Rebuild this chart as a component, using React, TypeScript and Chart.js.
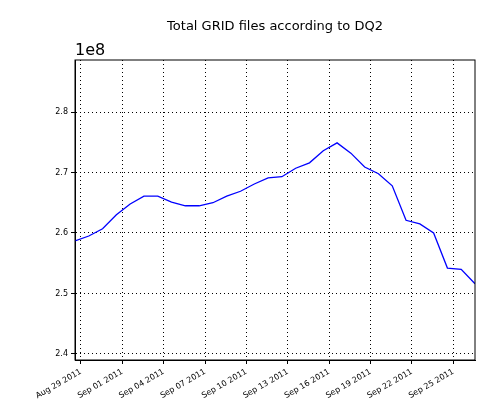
import { useEffect, useRef } from "react";
import { Chart, registerables, type ChartConfiguration, type Plugin } from "chart.js";

Chart.register(...registerables);

// day offset from Aug 29 2011 (data sampled ~14:00 each day)
const dayOffsets = [
  -0.43, 0.57, 1.57, 2.57, 3.57, 4.57, 5.57, 6.57, 7.57, 8.57, 9.57, 10.57, 11.57, 12.57, 13.57,
  14.57, 15.57, 16.57, 17.57, 18.57, 19.57, 20.57, 21.57, 22.57, 23.57, 24.57, 25.57, 26.57, 27.57, 28.57,
];
// values in units of 1e8
const gridFiles = [
  2.587, 2.595, 2.607, 2.63, 2.648, 2.661, 2.661, 2.651, 2.645, 2.645, 2.65, 2.661, 2.669, 2.681, 2.691,
  2.693, 2.707, 2.716, 2.736, 2.749, 2.732, 2.709, 2.698, 2.678, 2.621, 2.615, 2.6, 2.542, 2.54, 2.516,
];
const xTickDays = [0, 3, 6, 9, 12, 15, 18, 21, 24, 27];
const xTickLabels = [
  "Aug 29 2011", "Sep 01 2011", "Sep 04 2011", "Sep 07 2011", "Sep 10 2011",
  "Sep 13 2011", "Sep 16 2011", "Sep 19 2011", "Sep 22 2011", "Sep 25 2011",
];

const textPlugin: Plugin = {
  id: "texts",
  afterDraw(chart) {
    const { ctx, chartArea } = chart;
    ctx.save();
    ctx.fillStyle = "#000";
    ctx.font = "13px 'DejaVu Sans'";
    ctx.textAlign = "center";
    ctx.fillText("Total GRID files according to DQ2", 275, 30);
    ctx.font = "16px 'DejaVu Sans'";
    ctx.textAlign = "left";
    ctx.fillText("1e8", chartArea.left, chartArea.top - 5);
    ctx.strokeStyle = "#000";
    ctx.lineWidth = 1;
    ctx.strokeRect(chartArea.left, chartArea.top, chartArea.right - chartArea.left, chartArea.bottom - chartArea.top);
    ctx.restore();
  },
};

export default function App() {
  const canvasRef = useRef<HTMLCanvasElement>(null);

  useEffect(() => {
    const ctx = canvasRef.current?.getContext("2d");
    if (!ctx) return;
    const config: ChartConfiguration = {
      type: "line",
      data: {
        datasets: [
          {
            data: dayOffsets.map((d, i) => ({ x: d, y: gridFiles[i] })),
            borderColor: "#0000ff",
            borderWidth: 1.3,
            pointRadius: 0,
            tension: 0,
          },
        ],
      },
      options: {
        responsive: false,
        animation: false,
        layout: { padding: { top: 60, right: 25, left: 0, bottom: 0 } },
        plugins: { legend: { display: false }, tooltip: { enabled: false } },
        scales: {
          x: {
            type: "linear",
            min: -0.43,
            max: 28.57,
            afterBuildTicks: (s) => {
              s.ticks = xTickDays.map((v) => ({ value: v }));
            },
            afterFit: (s) => {
              s.height = 40;
            },
            ticks: {
              autoSkip: false,
              minRotation: 30,
              maxRotation: 30,
              color: "#000",
              font: { size: 8, family: "DejaVu Sans" },
              callback: (v) => xTickLabels[xTickDays.indexOf(Number(v))] ?? "",
            },
            grid: { color: "#000", tickLength: 4, lineWidth: 1 },
            border: { color: "#000", dash: [1, 3] },
          },
          y: {
            min: 2.39,
            max: 2.886,
            afterBuildTicks: (s) => {
              s.ticks = [2.4, 2.5, 2.6, 2.7, 2.8].map((v) => ({ value: v }));
            },
            afterFit: (s) => {
              s.width = 75;
            },
            ticks: {
              color: "#000",
              font: { size: 8, family: "DejaVu Sans" },
              callback: (v) => Number(v).toFixed(1),
            },
            grid: { color: "#000", tickLength: 4, lineWidth: 1 },
            border: { color: "#000", dash: [1, 3] },
          },
        },
      },
      plugins: [textPlugin],
    };
    // dotted grid lines
    (config.options!.scales!.x as any).grid.borderDash = [1, 3];
    const chart = new Chart(ctx, config);
    return () => chart.destroy();
  }, []);

  return (
    <div style={{ position: "absolute", left: 0, top: 0, background: "#fff" }}>
      <canvas ref={canvasRef} width={500} height={400} />
    </div>
  );
}
